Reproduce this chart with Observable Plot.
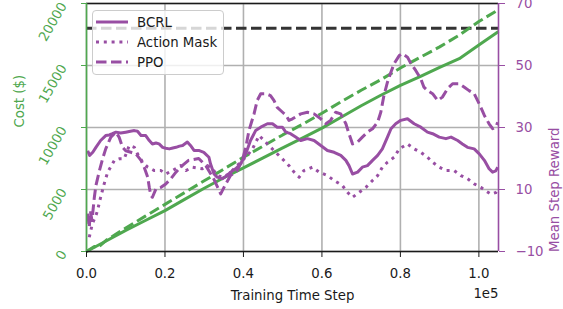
<!DOCTYPE html>
<html><head><meta charset="utf-8">
<script src="https://cdn.jsdelivr.net/npm/d3@7"></script>
<script src="https://cdn.jsdelivr.net/npm/@observablehq/plot@0.6"></script>
<style>
body{margin:0;background:#fff;}
#wrap{position:relative;width:563px;height:309px;overflow:hidden;font-family:"DejaVu Sans",sans-serif;background:#fff;}
#legend{position:absolute;left:92px;top:10px;width:132px;height:65px;box-sizing:border-box;background:rgba(255,255,255,0.8);border:1px solid #cccccc;border-radius:4px;}
#legend svg{position:absolute;left:0;top:0;}
</style></head><body><div id="wrap"></div>
<script>
// ---- data (time in units of 1e5 training steps) ----
const xTicks = [0, 0.2, 0.4, 0.6, 0.8, 1.0];
const costTicks = [0, 5000, 10000, 15000, 20000];
const rewardTicks = [-10, 10, 30, 50, 70];
const seriesNames = ["BCRL", "Action Mask", "PPO"];
const costLimit = 18000;

const bcrlCost = [[0,0],[0.05,850],[0.1,1700],[0.15,2500],[0.2,3300],[0.25,4200],[0.3,5100],[0.35,5950],[0.4,6750],[0.45,7550],[0.5,8350],[0.55,9150],[0.6,9950],[0.65,10850],[0.7,11750],[0.75,12600],[0.8,13400],[0.85,14100],[0.9,14850],[0.95,15550],[1.0,16650],[1.05,17750]];
const ppoCost = [[0,0],[0.02,400],[0.03,350],[0.05,900],[0.1,1900],[0.15,2850],[0.2,3800],[0.25,4750],[0.3,5700],[0.35,6650],[0.4,7600],[0.45,8500],[0.5,9400],[0.55,10250],[0.6,11150],[0.65,12100],[0.7,13000],[0.75,13850],[0.8,14800],[0.85,15650],[0.9,16500],[0.95,17450],[1.0,18550],[1.05,19500]];

const bcrlReward = [[0.003,22.5],[0.008,21],[0.016,22],[0.024,23.6],[0.036,25.8],[0.049,27.4],[0.058,27.6],[0.066,28],[0.075,28.5],[0.087,28.2],[0.100,28.5],[0.112,28.8],[0.122,29],[0.130,28.8],[0.139,27.4],[0.151,27.4],[0.160,25.8],[0.168,24.7],[0.177,25],[0.185,24.7],[0.194,23.6],[0.202,23.3],[0.211,23.1],[0.220,23.4],[0.228,23.6],[0.237,24],[0.245,24.2],[0.257,25.3],[0.265,24.2],[0.274,22.6],[0.286,22.6],[0.299,22],[0.312,20.4],[0.316,18.3],[0.325,15],[0.333,14],[0.346,13.5],[0.359,14.5],[0.367,15.6],[0.380,16.7],[0.393,18.3],[0.406,21.5],[0.418,25.8],[0.431,29],[0.444,30.1],[0.461,31.2],[0.474,31.2],[0.486,30.1],[0.499,30.1],[0.508,28.5],[0.520,28],[0.533,26.9],[0.546,25.8],[0.563,26.4],[0.580,25.8],[0.597,24.2],[0.614,22.6],[0.631,22],[0.648,21],[0.661,19.4],[0.669,17.7],[0.678,15],[0.691,15.6],[0.703,17.2],[0.716,17.7],[0.729,19.4],[0.742,21],[0.754,23.1],[0.767,26.9],[0.776,29.6],[0.788,31.2],[0.801,32.3],[0.818,32.8],[0.835,31.2],[0.852,30.1],[0.869,28.5],[0.882,28],[0.899,26.9],[0.916,26.4],[0.929,26.9],[0.946,25.8],[0.958,24.7],[0.971,23.6],[0.988,23.1],[1.001,21.5],[1.014,19.4],[1.026,16.7],[1.035,15.6],[1.043,16],[1.048,17.2]];

const maskReward = [[0.007,-5.4],[0.015,-1],[0.024,1.6],[0.028,3.2],[0.036,7.5],[0.045,11.8],[0.054,15.6],[0.071,19.4],[0.083,19.9],[0.096,19.9],[0.109,24.2],[0.122,23.6],[0.130,21.5],[0.143,18.8],[0.156,17.2],[0.173,16.1],[0.190,16.1],[0.202,15],[0.219,16.1],[0.227,16.7],[0.240,17.7],[0.253,16.1],[0.270,17.2],[0.295,16.7],[0.308,17.7],[0.321,16.7],[0.333,14.5],[0.346,14],[0.363,15],[0.376,16.7],[0.393,18.8],[0.410,21],[0.423,23.1],[0.440,27.4],[0.465,24.2],[0.482,22],[0.499,19.9],[0.516,17.7],[0.529,15.6],[0.542,14],[0.554,16.1],[0.576,17.2],[0.593,15.6],[0.614,14.5],[0.631,12.9],[0.652,11.3],[0.665,9.1],[0.678,7.5],[0.695,9.1],[0.712,10.7],[0.729,12.9],[0.742,14.5],[0.754,17.2],[0.767,18.8],[0.784,20.4],[0.797,23.1],[0.818,24.7],[0.835,23.1],[0.852,22],[0.869,20.4],[0.882,18.8],[0.899,17.2],[0.916,16.1],[0.937,16.1],[0.954,14.5],[0.971,13.5],[0.988,11.8],[1.005,10.7],[1.018,9.5],[1.031,8.5],[1.043,9],[1.048,10]];

const ppoReward = [[0.003,2.2],[0.007,-2.2],[0.010,3],[0.014,0],[0.020,7.5],[0.024,11.3],[0.032,15.6],[0.041,19.9],[0.049,23.1],[0.062,26.9],[0.075,28.5],[0.083,26.9],[0.092,23.6],[0.100,22.5],[0.113,22],[0.126,21.5],[0.139,19.4],[0.147,17.2],[0.156,14],[0.160,10.7],[0.164,8.1],[0.168,7.5],[0.177,10.2],[0.190,10.7],[0.202,11.8],[0.215,13.5],[0.228,15.6],[0.244,17.7],[0.260,19.4],[0.286,20],[0.304,17.7],[0.324,13.5],[0.338,9.7],[0.342,8.6],[0.355,11.8],[0.367,14.5],[0.384,16.1],[0.397,19.4],[0.406,23.6],[0.414,29],[0.427,34.4],[0.435,38.7],[0.444,40.9],[0.457,40.9],[0.469,40.3],[0.478,38.7],[0.486,36.5],[0.499,35],[0.508,34],[0.516,32.3],[0.525,32.8],[0.546,34.4],[0.563,34.9],[0.580,34.4],[0.597,32.8],[0.610,31.2],[0.622,32.3],[0.635,34.9],[0.648,34.4],[0.661,31.2],[0.669,28],[0.678,24.7],[0.691,25.3],[0.703,26.9],[0.716,28.5],[0.729,29.6],[0.742,31.7],[0.750,34.9],[0.758,40.3],[0.767,44.6],[0.776,47.9],[0.784,50.6],[0.797,53.2],[0.805,53.8],[0.818,52.7],[0.827,50.6],[0.839,48.4],[0.852,45.7],[0.860,43],[0.869,41.9],[0.882,40.9],[0.895,38.7],[0.907,39.8],[0.920,42.5],[0.933,44.1],[0.950,44.1],[0.963,43],[0.975,41.9],[0.988,40.9],[1.001,37.6],[1.014,33.9],[1.026,31.2],[1.035,29.6],[1.043,30.1],[1.048,31.7]];

// ---- settings ----
const xDomain = [0, 1.05];
const costDomain = [0, 20000];
const rewardDomain = [-10, 70];
const green = "#4fa84f", purple = "#984ea3", ink = "#1a1a1a";
const lw = 3, dashed = "10.5,4.5", dotted = "3,4.8";

// map reward onto the cost (left) scale so both share the frame
const toCost = r => (r - rewardDomain[0]) / (rewardDomain[1] - rewardDomain[0]) * (costDomain[1] - costDomain[0]) + costDomain[0];
const fromCost = c => (c - costDomain[0]) / (costDomain[1] - costDomain[0]) * (rewardDomain[1] - rewardDomain[0]) + rewardDomain[0];
const fmtSigned = v => { const r = Math.round(v); return r < 0 ? "\u2212" + (-r) : String(r); };

const rows = a => a.map(([t, v]) => ({t, v}));
const rewardStyles = [
  {data: bcrlReward, dash: null},
  {data: maskReward, dash: dotted},
  {data: ppoReward, dash: dashed}
];

const chart = Plot.plot({
  width: 563, height: 309,
  marginLeft: 86, marginRight: 65, marginTop: 3, marginBottom: 58,
  style: {fontFamily: '"DejaVu Sans", sans-serif', fontSize: "13.3px", background: "transparent", overflow: "visible", color: ink},
  x: {domain: xDomain, label: null},
  y: {domain: costDomain, label: null},
  marks: [
    Plot.gridX(xTicks, {stroke: "#b0b0b0", strokeOpacity: 1, strokeWidth: 1.6}),
    Plot.gridY(costTicks, {stroke: "#b0b0b0", strokeOpacity: 1, strokeWidth: 1.6}),
    Plot.ruleY([costLimit], {stroke: "#333333", strokeWidth: lw, strokeDasharray: dashed}),
    Plot.line(rows(bcrlCost), {x: "t", y: "v", stroke: green, strokeWidth: lw, strokeLinecap: "butt"}),
    Plot.line(rows(ppoCost), {x: "t", y: "v", stroke: green, strokeWidth: lw, strokeDasharray: dashed, strokeLinecap: "butt"}),
    ...rewardStyles.map(s => Plot.line(rows(s.data), {
      x: "t", y: d => toCost(d.v), stroke: purple, strokeWidth: lw,
      strokeLinecap: "butt", strokeLinejoin: "round",
      ...(s.dash ? {strokeDasharray: s.dash} : {})
    })),
    // spines
    Plot.ruleY([costDomain[0]], {stroke: ink, strokeWidth: 1.6}),
    Plot.ruleY([costDomain[1]], {stroke: ink, strokeWidth: 1.6}),
    Plot.ruleX([xDomain[0]], {stroke: green, strokeWidth: 1.6}),
    Plot.ruleX([xDomain[1]], {stroke: purple, strokeWidth: 1.6}),
    // axes
    Plot.axisX(xTicks, {anchor: "bottom", tickSize: 6, tickPadding: 11, tickFormat: d => d.toFixed(1), color: ink, label: null}),
    Plot.axisY(costTicks, {anchor: "left", tickSize: 5, tickFormat: () => "", color: green, label: null}),
    Plot.text(costTicks, {y: d => d, frameAnchor: "left", text: d => String(d), rotate: -60, textAnchor: "end", lineAnchor: "middle", dx: -23, fill: green}),
    Plot.axisY(rewardTicks.map(toCost), {anchor: "right", tickSize: 6, tickPadding: 11, tickFormat: c => fmtSigned(fromCost(c)), color: purple, label: null}),
    // axis titles
    Plot.text(["Training Time Step"], {frameAnchor: "bottom", text: d => d, dy: 44, lineAnchor: "middle", fill: ink}),
    Plot.text(["1e5"], {frameAnchor: "bottom-right", text: d => d, dy: 42, textAnchor: "end", lineAnchor: "middle", fill: ink}),
    Plot.text(["Cost ($)"], {frameAnchor: "left", text: d => d, dx: -67, rotate: -90, lineAnchor: "middle", fill: green}),
    Plot.text(["Mean Step Reward"], {frameAnchor: "right", text: d => d, dx: 56, rotate: -90, lineAnchor: "middle", fill: purple})
  ]
});

const wrap = document.getElementById("wrap");
wrap.appendChild(chart);

// legend (inside the axes, upper left)
const legend = d3.select(wrap).append("div").attr("id", "legend");
const lsvg = legend.append("svg").attr("width", 132).attr("height", 65);
const legendDash = [null, dotted, dashed];
seriesNames.forEach((name, i) => {
  const cy = 11 + i * 20;
  const ln = lsvg.append("line").attr("x1", 3).attr("x2", 35).attr("y1", cy).attr("y2", cy)
    .attr("stroke", purple).attr("stroke-width", lw).attr("stroke-linecap", "butt");
  if (legendDash[i]) ln.attr("stroke-dasharray", legendDash[i]);
  lsvg.append("text").attr("x", 44).attr("y", cy).attr("dy", "0.35em")
    .attr("font-family", '"DejaVu Sans", sans-serif').attr("font-size", "13.3px")
    .attr("fill", ink).text(name);
});
</script></body></html>
